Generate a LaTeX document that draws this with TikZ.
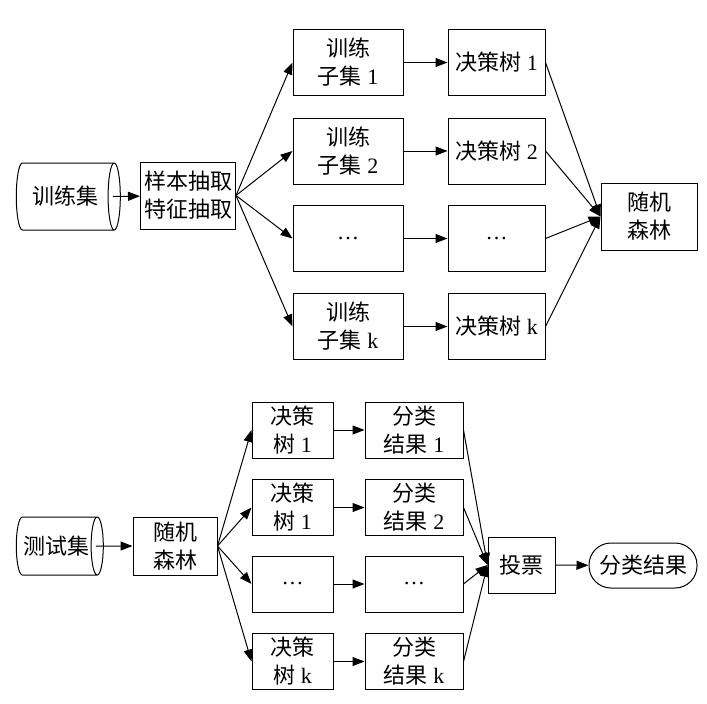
\documentclass[tikz,border=0pt]{standalone}
\usepackage{fontspec}
\setmainfont{Liberation Serif}
\newfontfamily\cjk{Noto Sans CJK SC}
\usepackage{tikz}
\usetikzlibrary{shapes.geometric, arrows.meta}
\tikzstyle{arrow} = [line width=1pt,-{Triangle[length=12pt,width=9pt]}]
\tikzstyle{box} = [draw, line width=1pt, inner sep=0pt, align=center, font=\fontsize{22}{28}\selectfont]
\tikzstyle{store} = [box, cylinder, aspect=0.6]

\begin{document}
\begin{tikzpicture}[x=1pt,y=-1pt]
	\useasboundingbox (0,0) rectangle (707,704);
	
	% Training part:
	\node [store, minimum height=104, minimum width=67] (train) at (65,196.5) {\cjk 训练集};
	\node [box, minimum width=95, minimum height=67] (sample) at (188,195.5) {\cjk 样本抽取\\\cjk 特征抽取};
	
	\node [box, minimum width=110, minimum height=66] (sub1) at (348,62.5) {\cjk 训练\\{\cjk 子集} 1};
	\node [box, minimum width=110, minimum height=66] (sub2) at (348,151) {\cjk 训练\\{\cjk 子集} 2};
	\node [box, minimum width=110, minimum height=66] (sub3) at (348,238.5) {\ldots};
	\node [box, minimum width=110, minimum height=66] (sub4) at (348,326.5) {\cjk 训练\\{\cjk 子集} k};
	
	\node [box, minimum width=97, minimum height=66] (tree1) at (496.5,62.5) {{\cjk 决策树} 1};
	\node [box, minimum width=97, minimum height=66] (tree2) at (496.5,151) {{\cjk 决策树} 2};
	\node [box, minimum width=97, minimum height=66] (tree3) at (496.5,238.5) {\ldots};
	\node [box, minimum width=97, minimum height=66] (tree4) at (496.5,326.5) {{\cjk 决策树} k};
	
	\node [box, minimum width=96, minimum height=67] (rf) at (649,216.5) {\cjk 随机\\\cjk 森林};
	
	\draw [arrow] ([xshift=-8]train.east) -- (sample);
	\foreach \n in {1,2,3,4}
	{
		\draw [arrow] (sample.east) -- (sub\n.west);
		\draw [arrow] (sub\n) -- (tree\n);
		\draw [arrow] (tree\n.east) -- (rf.west);
	}
	
	% Test part:
	\node [store, minimum height=87, minimum width=58] (test) at (56.5,546) {\cjk 测试集};
	\node [box, minimum width=84, minimum height=58] (forest) at (175,546) {\cjk 随机\\\cjk 森林};
	
	\node [box, minimum width=81, minimum height=56] (dt1) at (292.5,430) {\cjk 决策\\{\cjk 树} 1};
	\node [box, minimum width=81, minimum height=56] (dt2) at (292.5,507.5) {\cjk 决策\\{\cjk 树} 1};
	\node [box, minimum width=81, minimum height=56] (dt3) at (292.5,584) {\ldots};
	\node [box, minimum width=81, minimum height=56] (dt4) at (292.5,661.5) {\cjk 决策\\{\cjk 树} k};
	
	\node [box, minimum width=98, minimum height=56] (res1) at (414,430) {\cjk 分类\\{\cjk 结果} 1};
	\node [box, minimum width=98, minimum height=56] (res2) at (414,507.5) {\cjk 分类\\{\cjk 结果} 2};
	\node [box, minimum width=98, minimum height=56] (res3) at (414,584) {\ldots};
	\node [box, minimum width=98, minimum height=56] (res4) at (414,661.5) {\cjk 分类\\{\cjk 结果} k};
	
	\node [box, minimum width=67, minimum height=56] (vote) at (521.5,565) {\cjk 投票};
	\node [box, rounded corners=22pt, minimum width=108, minimum height=45] (final) at (643,565.5) {\cjk 分类结果};
	
	\draw [arrow] ([xshift=-8]test.east) -- (forest);
	\foreach \n in {1,2,3,4}
	{
		\draw [arrow] (forest.east) -- (dt\n.west);
		\draw [arrow] (dt\n) -- (res\n);
		\draw [arrow] (res\n.east) -- (vote.west);
	}
	\draw [arrow] (vote) -- (final);
	
\end{tikzpicture}
\end{document}
